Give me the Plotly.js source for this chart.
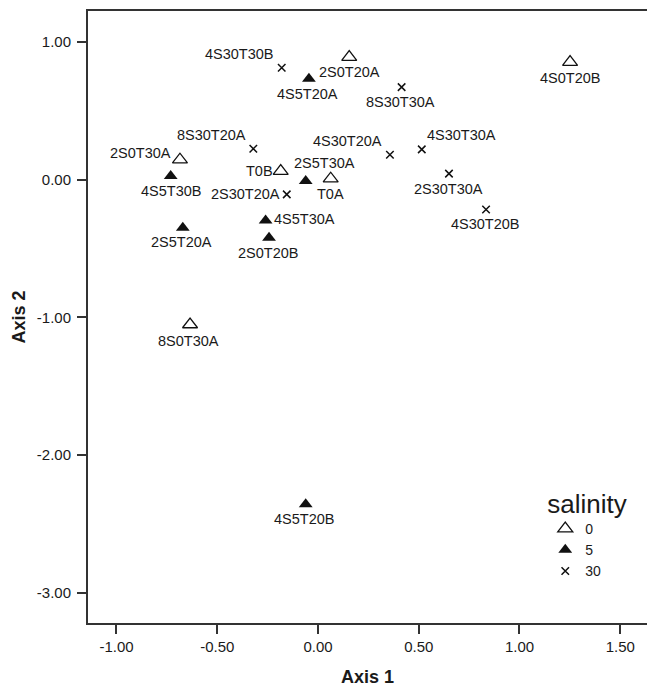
<!DOCTYPE html>
<html>
<head>
<meta charset="utf-8">
<script src="https://cdn.plot.ly/plotly-3.0.1.min.js"></script>
<style>html,body{margin:0;padding:0;background:#fff;}#chart{width:647px;height:687px;}</style>
</head>
<body>
<div id="chart"></div>
<script>
// ---- data ----
const sal0Names = ["2S0T20A","4S0T20B","2S0T30A","T0B","T0A","8S0T30A"];
const sal0X = [0.155, 1.251, -0.685, -0.185, 0.063, -0.635];
const sal0Y = [0.890, 0.854, 0.145, 0.062, 0.007, -1.052];

const sal5Names = ["4S5T20A","4S5T30B","2S5T30A","2S5T20A","4S5T30A","2S0T20B","4S5T20B"];
const sal5X = [-0.045, -0.731, -0.061, -0.671, -0.260, -0.243, -0.061];
const sal5Y = [0.733, 0.026, -0.010, -0.349, -0.296, -0.421, -2.358];

const sal30Names = ["4S30T30B","8S30T20A","2S30T20A","8S30T30A","4S30T20A","4S30T30A","2S30T30A","4S30T20B"];
const sal30X = [-0.180, -0.321, -0.155, 0.415, 0.357, 0.515, 0.650, 0.834];
const sal30Y = [0.813, 0.225, -0.107, 0.672, 0.181, 0.220, 0.044, -0.216];

const legendNames = ["0", "5", "30"];
const xTicks = [-1.0, -0.5, 0.0, 0.5, 1.0, 1.5];
const xTickLabels = ["-1.00", "-0.50", "0.00", "0.50", "1.00", "1.50"];
const yTicks = [-3, -2, -1, 0, 1];
const yTickLabels = ["-3.00", "-2.00", "-1.00", "0.00", "1.00"];

// ---- label placement (style, px offsets of label centre from marker) ----
const labelShift = {
  "2S0T20A":[0,15], "4S0T20B":[0,15.5], "2S0T30A":[-39,-7], "T0B":[-21,0], "T0A":[0,15], "8S0T30A":[-2,16.5],
  "4S5T20A":[-1,15], "4S5T30B":[0,15], "2S5T30A":[19,-18], "2S5T20A":[-1,14.5], "4S5T30A":[39,-1], "2S0T20B":[-1,15], "4S5T20B":[-2,15],
  "4S30T30B":[-42,-13.5], "8S30T20A":[-42,-13.5], "2S30T20A":[-41,0], "8S30T30A":[-1,14.5], "4S30T20A":[-42,-14],
  "4S30T30A":[40,-14], "2S30T30A":[0,15], "4S30T20B":[-1,14.5]
};

const FONT = '"Liberation Sans", Arial, sans-serif';
const ink = '#111';

const traces = [
  {x: sal0X, y: sal0Y, text: sal0Names, name: legendNames[0], type: 'scatter', mode: 'markers',
   marker: {symbol: 'triangle-up-open', size: 13, color: ink, line: {width: 1.3, color: ink}}, hoverinfo: 'text'},
  {x: sal5X, y: sal5Y, text: sal5Names, name: legendNames[1], type: 'scatter', mode: 'markers',
   marker: {symbol: 'triangle-up', size: 12, color: ink, line: {width: 0}}, hoverinfo: 'text'},
  {x: sal30X, y: sal30Y, text: sal30Names, name: legendNames[2], type: 'scatter', mode: 'markers',
   marker: {symbol: 'x-thin-open', size: 7.5, color: ink, line: {width: 1.5, color: ink}}, hoverinfo: 'text'}
];

const annotations = [];
[[sal0Names, sal0X, sal0Y], [sal5Names, sal5X, sal5Y], [sal30Names, sal30X, sal30Y]].forEach(([n, xs, ys]) => {
  n.forEach((name, i) => {
    const s = labelShift[name] || [0, 15];
    annotations.push({x: xs[i], y: ys[i], xref: 'x', yref: 'y', text: name, showarrow: false,
      xshift: s[0], yshift: -s[1], xanchor: 'center', yanchor: 'middle',
      font: {family: FONT, size: 14.5, color: '#1a1a1a'}});
  });
});

const axisCommon = {
  showgrid: false, zeroline: false, showline: true, linecolor: '#333', linewidth: 2,
  ticks: 'outside', ticklen: 9, tickwidth: 2, tickcolor: '#333',
  tickmode: 'array', tickfont: {family: FONT, size: 15, color: '#1a1a1a'}
};

const layout = {
  width: 647, height: 687,
  margin: {l: 88, r: 0, t: 11, b: 64, pad: 0},
  paper_bgcolor: '#fff', plot_bgcolor: '#fff',
  font: {family: FONT, color: '#1a1a1a'},
  xaxis: Object.assign({}, axisCommon, {
    range: [-1.1414, 1.6328], tickvals: xTicks, ticktext: xTickLabels, mirror: true,
    title: {text: '<b>Axis 1</b>', font: {family: FONT, size: 18, color: '#1a1a1a'}, standoff: 16}
  }),
  yaxis: Object.assign({}, axisCommon, {
    range: [-3.22, 1.2251], tickvals: yTicks, ticktext: yTickLabels, mirror: false, ticklabelstandoff: 3,
    title: {text: '<b>Axis 2</b>', font: {family: FONT, size: 18, color: '#1a1a1a'}, standoff: 6}
  }),
  showlegend: true,
  legend: {
    x: 0.818, y: 0.235, xanchor: 'left', yanchor: 'top',
    bgcolor: 'rgba(0,0,0,0)', borderwidth: 0,
    font: {family: FONT, size: 14, color: '#1a1a1a'},
    title: {text: 'salinity', font: {family: FONT, size: 26, color: '#1a1a1a'}, side: 'top'},
    tracegroupgap: 0
  },
  annotations: annotations,
  hovermode: 'closest'
};

Plotly.newPlot('chart', traces, layout, {displayModeBar: false, staticPlot: true});
</script>
</body>
</html>
